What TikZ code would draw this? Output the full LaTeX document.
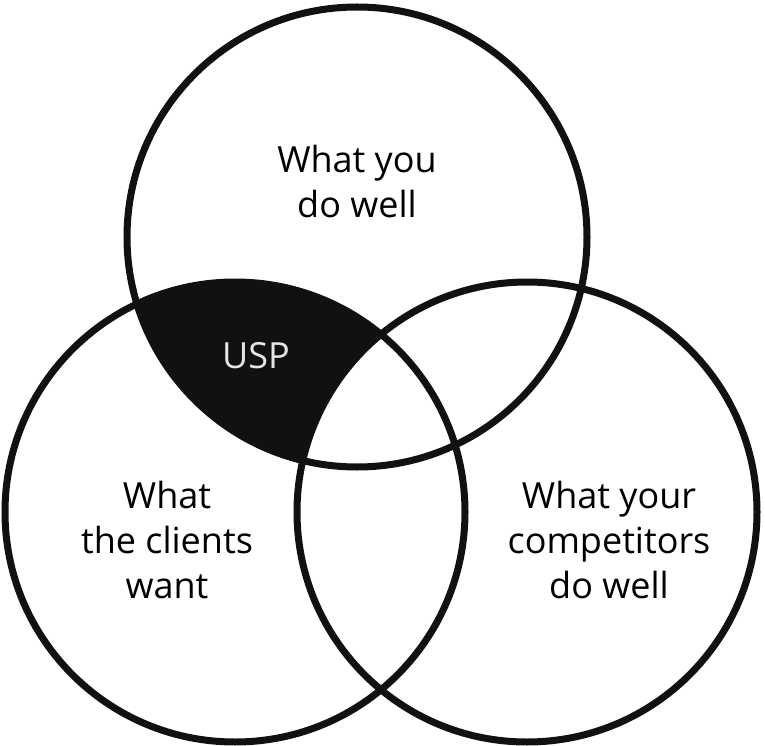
\documentclass[tikz,border=0pt]{standalone}
\usepackage{fontspec}
\setmainfont{Open Sans}
\usetikzlibrary{positioning}
\definecolor{ink}{HTML}{111111}
\definecolor{chalk}{HTML}{E6E6E6}

\begin{document}
\begin{tikzpicture}[x=1pt,y=-1pt,
    ring/.style={draw=ink,line width=7pt},
    venntext/.style={align=center,font=\fontsize{36}{45}\selectfont,inner sep=0pt}]

                \useasboundingbox (0,0) rectangle (765,746);

                \coordinate (you) at (357,237);
                \coordinate (clients) at (235,512);
                \coordinate (rivals) at (527,512);

                % shaded part: you and clients, not rivals
                \begin{scope}
                    \clip (you) circle (230pt);
                    \clip (clients) circle (230pt);
                    \fill[ink] (0,0) rectangle (765,746);
                    \fill[white] (rivals) circle (230pt);
                \end{scope}

                \draw[ring] (you) circle (230pt);
                \draw[ring] (clients) circle (230pt);
                \draw[ring] (rivals) circle (230pt);

                \node[venntext] (t-you) at (357,181) {What you\\do well};
                \node[venntext,text=chalk] (t-usp) at (256,356) {USP};
                \node[venntext] (t-clients) at (167,540) {What\\the clients\\want};
                \node[venntext] (t-rivals) at (609,540) {What your\\competitors\\do well};

            \end{tikzpicture}
\end{document}
